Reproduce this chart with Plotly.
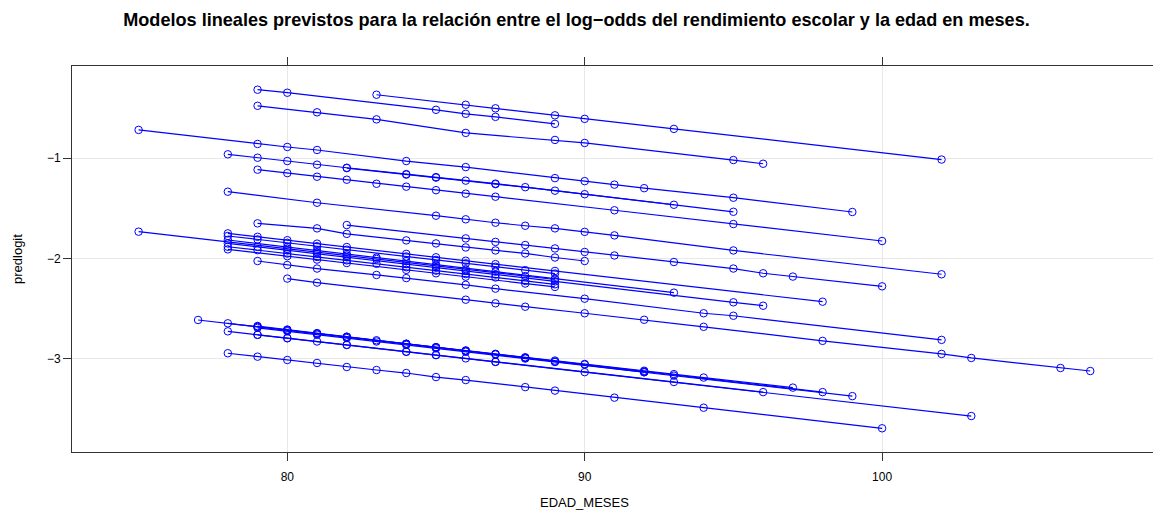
import plotly.graph_objects as go

# ---- data: one fitted line per group (EDAD_MESES, predlogit) ----
x_A = [79, 80, 85, 86, 87, 89]
y_A = [-0.32, -0.35, -0.52, -0.56, -0.59, -0.66]
x_B = [83, 86, 87, 89, 90, 93, 102]
y_B = [-0.37, -0.47, -0.505, -0.575, -0.61, -0.71, -1.015]
x_C = [79, 81, 83, 86, 89, 90, 95, 96]
y_C = [-0.48, -0.545, -0.615, -0.75, -0.82, -0.85, -1.02, -1.057]
x_D = [75, 79, 80, 81, 84, 86, 89, 90, 91, 92, 95, 99]
y_D = [-0.72, -0.86, -0.89, -0.92, -1.03, -1.09, -1.20, -1.23, -1.265, -1.30, -1.395, -1.537]
x_E = [78, 79, 80, 81, 82, 84, 85, 87, 89, 90, 93]
y_E = [-0.963, -0.997, -1.03, -1.066, -1.097, -1.16, -1.19, -1.255, -1.325, -1.36, -1.465]
x_E2 = [82, 84, 85, 86, 87, 88, 95]
y_E2 = [-1.10, -1.165, -1.195, -1.225, -1.26, -1.29, -1.535]
x_F = [79, 80, 81, 82, 83, 84, 85, 86, 87, 91, 95, 100]
y_F = [-1.116, -1.15, -1.186, -1.216, -1.256, -1.285, -1.32, -1.355, -1.385, -1.52, -1.657, -1.826]
x_G = [78, 81, 85, 86, 87, 88, 89, 90, 91, 95, 102]
y_G = [-1.335, -1.445, -1.574, -1.61, -1.644, -1.674, -1.70, -1.735, -1.77, -1.92, -2.157]
x_H = [79, 81, 82, 84, 85, 86, 87, 88, 89, 90]
y_H = [-1.65, -1.70, -1.755, -1.82, -1.85, -1.89, -1.92, -1.95, -1.99, -2.025]
x_I = [82, 86, 87, 88, 89, 90, 91, 93, 95, 96, 97, 100]
y_I = [-1.667, -1.80, -1.835, -1.866, -1.90, -1.935, -1.97, -2.035, -2.10, -2.147, -2.18, -2.277]
x_J = [75, 80, 81, 82, 83, 85, 86, 88, 89]
y_J = [-1.733, -1.903, -1.937, -1.971, -2.005, -2.073, -2.107, -2.175, -2.209]
x_K1 = [78, 79, 80, 81, 82, 84, 85, 86, 87, 89, 98]
y_K1 = [-1.75, -1.784, -1.818, -1.852, -1.886, -1.954, -1.988, -2.022, -2.056, -2.124, -2.43]
x_K2 = [78, 79, 80, 81, 82, 84, 85, 86, 87, 88, 89]
y_K2 = [-1.776, -1.81, -1.844, -1.878, -1.912, -1.98, -2.014, -2.048, -2.082, -2.116, -2.15]
x_K3 = [78, 80, 81, 82, 83, 84, 85, 87, 89, 93]
y_K3 = [-1.816, -1.886, -1.921, -1.956, -1.991, -2.026, -2.061, -2.131, -2.201, -2.34]
x_K4 = [78, 79, 80, 81, 82, 84, 85, 86, 87, 89, 95, 96]
y_K4 = [-1.85, -1.884, -1.919, -1.953, -1.988, -2.056, -2.091, -2.125, -2.16, -2.228, -2.436, -2.47]
x_K5 = [78, 79, 80, 81, 82, 83, 84, 85, 86, 87, 88, 89]
y_K5 = [-1.883, -1.917, -1.951, -1.985, -2.019, -2.053, -2.087, -2.121, -2.155, -2.189, -2.223, -2.257]
x_K6 = [78, 80, 81, 82, 84, 85, 86, 88, 89]
y_K6 = [-1.909, -1.977, -2.011, -2.045, -2.113, -2.147, -2.181, -2.249, -2.283]
x_N = [79, 80, 81, 83, 84, 86, 87, 90, 94, 95, 102]
y_N = [-2.025, -2.065, -2.10, -2.164, -2.195, -2.262, -2.30, -2.40, -2.545, -2.57, -2.81]
x_L = [80, 81, 86, 87, 88, 90, 92, 94, 98, 102, 103, 106, 107]
y_L = [-2.20, -2.24, -2.41, -2.446, -2.48, -2.545, -2.61, -2.68, -2.82, -2.95, -2.99, -3.09, -3.12]
x_P = [77, 79, 80, 81, 82, 83, 84, 85, 86, 87, 88, 89, 90, 92, 93, 94, 97]
y_P = [-2.612, -2.68, -2.713, -2.747, -2.78, -2.814, -2.848, -2.882, -2.915, -2.949, -2.983, -3.016, -3.05, -3.117, -3.151, -3.185, -3.285]
x_Q = [78, 79, 80, 81, 82, 84, 85, 86, 87, 88, 90, 92, 98]
y_Q = [-2.645, -2.679, -2.714, -2.748, -2.782, -2.851, -2.885, -2.919, -2.953, -2.988, -3.056, -3.125, -3.33]
x_T = [79, 80, 81, 82, 83, 84, 85, 86, 88, 89, 92, 93, 99]
y_T = [-2.69, -2.724, -2.758, -2.792, -2.826, -2.86, -2.894, -2.928, -2.996, -3.03, -3.132, -3.166, -3.37]
x_V = [79, 80, 81, 82, 84, 85, 86, 87, 88, 89, 92]
y_V = [-2.672, -2.707, -2.743, -2.778, -2.849, -2.884, -2.92, -2.955, -2.99, -3.026, -3.132]
x_R = [78, 79, 80, 81, 82, 84, 85, 86, 87, 93, 96]
y_R = [-2.725, -2.759, -2.792, -2.826, -2.859, -2.927, -2.96, -2.994, -3.027, -3.229, -3.33]
x_U = [79, 80, 82, 84, 85, 87, 90, 103]
y_U = [-2.76, -2.794, -2.861, -2.929, -2.962, -3.03, -3.131, -3.568]
x_S = [78, 79, 80, 81, 82, 83, 84, 85, 86, 88, 89, 91, 94, 100]
y_S = [-2.943, -2.977, -3.01, -3.04, -3.08, -3.11, -3.14, -3.18, -3.21, -3.28, -3.315, -3.385, -3.485, -3.69]

groups = [
    (x_A, y_A), (x_B, y_B), (x_C, y_C), (x_D, y_D), (x_E, y_E), (x_E2, y_E2),
    (x_F, y_F), (x_G, y_G), (x_H, y_H), (x_I, y_I), (x_J, y_J),
    (x_K1, y_K1), (x_K2, y_K2), (x_K3, y_K3), (x_K4, y_K4), (x_K5, y_K5), (x_K6, y_K6),
    (x_N, y_N), (x_L, y_L), (x_P, y_P), (x_Q, y_Q), (x_T, y_T), (x_V, y_V),
    (x_R, y_R), (x_U, y_U), (x_S, y_S),
]

x_ticks = [80, 90, 100]
y_ticks = [-3, -2, -1]

title_text = ("Modelos lineales previstos para la relación entre el log\u2212odds "
              "del rendimiento escolar y la edad en meses.")
x_label = "EDAD_MESES"
y_label = "predlogit"

fig = go.Figure()
for gx, gy in groups:
    fig.add_trace(go.Scatter(
        x=gx, y=gy, mode="lines+markers",
        line=dict(color="#0000ff", width=1.2),
        marker=dict(symbol="circle-open", size=7.5, color="#0000ff",
                    line=dict(width=1, color="#0000ff")),
        showlegend=False, hoverinfo="x+y",
    ))

W, H = 1153, 512
L_M, T_M, B_M = 72, 66, 60
plot_h = H - T_M - B_M

font_family = "Liberation Sans, Arial, Helvetica, sans-serif"
fig.update_layout(
    width=W, height=H,
    margin=dict(l=L_M, r=0, t=T_M, b=B_M, autoexpand=False),
    paper_bgcolor="white", plot_bgcolor="white",
    font=dict(family=font_family, size=12, color="black"),
    title=dict(text="<b>" + title_text + "</b>", x=0.5, xref="container", xanchor="center",
               y=1 - 20 / H, yref="container", yanchor="middle",
               font=dict(family=font_family, size=18.1, color="black")),
    xaxis=dict(
        range=[72.76, 109.11], tickvals=x_ticks, ticktext=[str(v) for v in x_ticks],
        showgrid=True, gridcolor="#e8e8e8", gridwidth=1, zeroline=False,
        showline=True, linecolor="#333333", linewidth=1, mirror="ticks",
        ticks="outside", ticklen=8, tickcolor="#333333",
        tickfont=dict(size=12), ticklabelstandoff=6,
    ),
    yaxis=dict(
        range=[-3.926, -0.084], tickvals=y_ticks,
        showgrid=True, gridcolor="#e8e8e8", gridwidth=1, zeroline=False,
        showline=True, linecolor="#333333", linewidth=1, mirror=False,
        ticks="outside", ticklen=8, tickcolor="#333333",
        tickfont=dict(size=12),
    ),
    annotations=[
        dict(text=x_label, xref="x", x=90, yref="paper", y=-(502 - (H - B_M)) / plot_h,
             xanchor="center", yanchor="middle", showarrow=False,
             font=dict(size=13)),
        dict(text=y_label, xref="paper", x=(17 - L_M) / (W - L_M), yref="paper", y=0.5,
             xanchor="center", yanchor="middle", textangle=-90, showarrow=False,
             font=dict(size=13)),
    ],
)

fig.write_html(
    "out.html",
    config={"displayModeBar": False},
    post_script="document.body.style.margin='0';document.body.style.overflow='hidden';",
)
